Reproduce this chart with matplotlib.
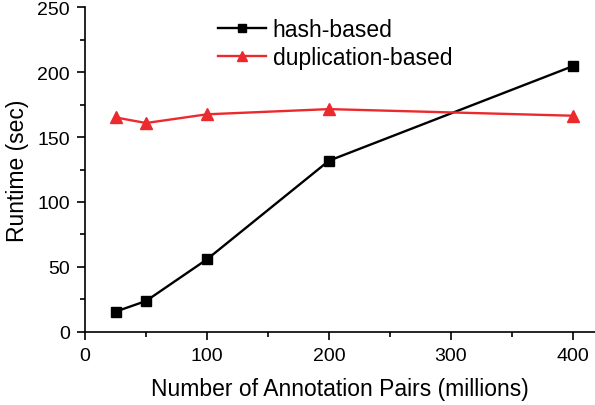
import matplotlib.pyplot as plt
from matplotlib.ticker import MultipleLocator

plt.rcParams['font.family'] = ['Liberation Sans', 'DejaVu Sans']

pairs = [25, 50, 100, 200, 400]
hash_based = [15.6, 23.8, 55.9, 131.8, 204.6]
dup_based = [165.1, 160.8, 167.5, 171.5, 166.4]

fig = plt.figure(figsize=(5.95, 4.06), dpi=100)
ax = fig.add_axes([0.1429, 0.180, 0.857, 0.800])

ax.plot(pairs, hash_based, 's-', color='black', lw=1.7, ms=6.5, label='hash-based')
ax.plot(pairs, dup_based, '^-', color='#ec2a2e', lw=1.7, ms=8.5, label='duplication-based')

ax.set_xlim(0, 418)
ax.set_ylim(0, 250)
ax.xaxis.set_major_locator(MultipleLocator(100))
ax.xaxis.set_minor_locator(MultipleLocator(50))
ax.yaxis.set_major_locator(MultipleLocator(50))
ax.yaxis.set_minor_locator(MultipleLocator(25))
ax.tick_params(which='major', direction='out', length=6, width=1.2, labelsize=14, pad=5)
ax.tick_params(which='minor', direction='out', length=3.5, width=1.2)

for side in ['top', 'right']:
    ax.spines[side].set_visible(False)
for side in ['left', 'bottom']:
    ax.spines[side].set_linewidth(1.2)

ax.set_xlabel('Number of Annotation Pairs (millions)', fontsize=16.5, labelpad=9)
ax.set_ylabel('Runtime (sec)', fontsize=16.5, labelpad=6)

ax.legend(loc='upper left', bbox_to_anchor=(0.22, 1.03), frameon=False,
          fontsize=16.5, handlelength=2.1, handletextpad=0.3, labelspacing=0.2,
          markerscale=0.85)

fig.savefig('out.png', dpi=100)
